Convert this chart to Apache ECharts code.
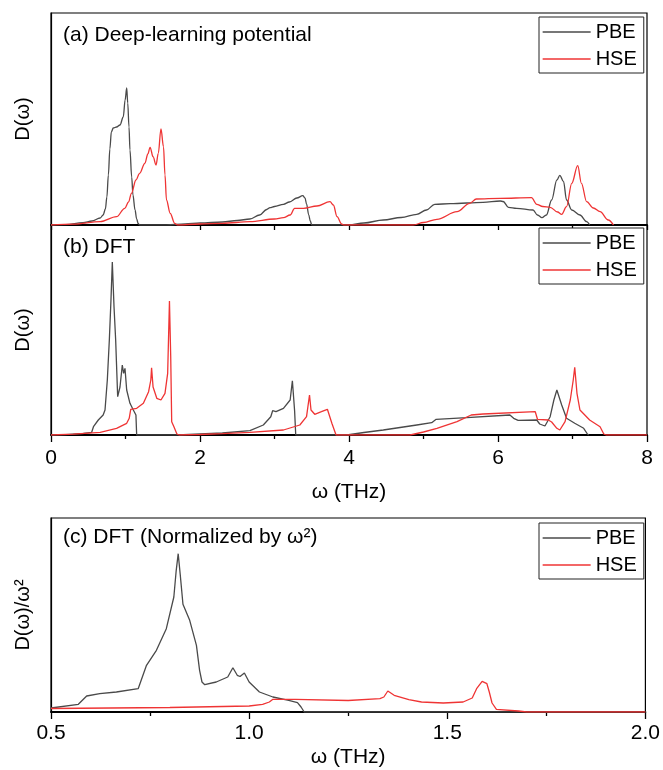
<!DOCTYPE html>
<html><head><meta charset="utf-8">
<script src="https://cdn.jsdelivr.net/npm/echarts@6/dist/echarts.min.js"></script>
<style>html,body{margin:0;padding:0;background:#fff}#c{width:663px;height:770px}</style>
</head><body><div id="c"></div>
<script>
// ---- data: [omega (THz), D (arb. units)] ----
const aPBE = [[0,0],[0.2,0.3],[0.43,2.3],[0.55,4],[0.66,7],[0.7,10],[0.73,16],[0.75,28],[0.77,50],[0.79,76],[0.81,93],[0.836,97],[0.88,98],[0.926,100],[0.97,108],[0.995,125],[1.016,137],[1.03,122],[1.047,98],[1.06,75],[1.083,48],[1.1,30],[1.128,15],[1.15,6],[1.17,1.5],[1.19,0],[1.55,0],[1.8,1],[2.0,2],[2.3,3],[2.5,4.5],[2.67,6],[2.8,10],[2.895,15.5],[2.94,17.3],[3.0,18.5],[3.12,20.7],[3.2,23],[3.3,27],[3.38,29.3],[3.41,27],[3.43,21],[3.46,10],[3.48,4],[3.5,0],[4.0,0],[4.2,2],[4.46,5],[4.7,7.5],[4.91,10.7],[5.04,15],[5.15,20.7],[5.36,21.3],[5.8,22.7],[6.03,24],[6.07,23.5],[6.14,17.7],[6.25,16.7],[6.47,15],[6.53,10],[6.59,7.3],[6.65,10],[6.72,25],[6.79,45],[6.83,49.7],[6.88,43.3],[6.92,25],[6.99,15],[7.1,10],[7.19,3.3],[7.23,0]];
const aHSE = [[0,0],[0.3,0.8],[0.66,3.3],[0.88,8.3],[0.99,16.7],[1.04,23],[1.08,31.7],[1.14,45],[1.19,51.7],[1.26,61.7],[1.3,71],[1.33,77.7],[1.37,68.3],[1.41,60],[1.44,71.7],[1.476,96],[1.51,78.3],[1.53,50],[1.55,25],[1.6,11.7],[1.66,1.7],[1.7,0],[2.0,1],[2.3,1.7],[2.67,3.3],[3.0,6],[3.12,7.3],[3.21,10],[3.27,16.7],[3.39,16.7],[3.57,19],[3.745,23.3],[3.79,20],[3.84,8.3],[3.9,1],[3.93,0],[4.86,0],[5.0,2.5],[5.18,5.7],[5.45,13.3],[5.62,21.7],[5.71,26],[6.03,26.7],[6.45,27.3],[6.52,20.7],[6.6,18.5],[6.7,17.7],[6.8,13],[6.855,10.7],[6.92,18.3],[6.99,41.7],[7.07,59.3],[7.12,41.7],[7.19,23.3],[7.28,17],[7.37,13.3],[7.48,5],[7.55,0]];
const bPBE = [[0,0],[0.2,0.4],[0.434,1.7],[0.546,2.7],[0.57,8.3],[0.635,15],[0.7,20],[0.725,25],[0.756,55],[0.783,95],[0.805,135],[0.823,173],[0.846,128],[0.868,95],[0.895,38.3],[0.926,48],[0.957,70],[0.975,61.7],[0.993,66.7],[1.016,45],[1.06,31.7],[1.105,25],[1.14,20],[1.15,0],[1.7,0],[2.0,1],[2.3,2],[2.67,4.3],[2.85,10],[2.95,18.3],[2.975,24.3],[3.02,23.3],[3.12,26.7],[3.21,35],[3.24,54.3],[3.27,24],[3.285,0],[3.97,0],[4.2,2.5],[4.46,5],[4.91,10],[5.11,12.3],[5.17,15.7],[5.58,17.3],[6.16,20],[6.21,16.7],[6.27,14.7],[6.52,15],[6.56,11],[6.63,9],[6.7,18.3],[6.75,35],[6.79,45],[6.81,46.7],[6.855,30],[6.92,16.7],[7.03,11.7],[7.15,6.7],[7.2,1],[7.22,0]];
const bHSE = [[0,0],[0.3,0.8],[0.66,2.7],[0.88,6.7],[1.016,11.7],[1.05,16.7],[1.07,25.7],[1.15,26.7],[1.24,31.7],[1.31,43.3],[1.34,55],[1.35,67.3],[1.37,48],[1.42,36.7],[1.476,35],[1.53,41.7],[1.566,61.7],[1.59,134],[1.607,78],[1.62,13.3],[1.65,8.3],[1.69,1],[1.72,0],[2.0,0.5],[2.3,1.3],[2.67,2.7],[3.12,5],[3.34,10],[3.43,18.3],[3.47,40],[3.49,25],[3.54,20.7],[3.63,23.3],[3.71,25.7],[3.77,11.7],[3.826,0],[4.82,0],[5.0,3],[5.18,6.7],[5.45,13.3],[5.64,20],[5.8,21],[6.5,23.3],[6.53,15.7],[6.675,15],[6.72,13],[6.79,6.7],[6.83,5],[6.9,13.3],[6.97,35],[7.01,55],[7.03,67.7],[7.06,41.7],[7.1,25],[7.23,15],[7.37,8.3],[7.42,1],[7.45,0],[8,0]];
const cPBE = [[0.5,4],[0.569,7.7],[0.59,16],[0.623,18.3],[0.665,20],[0.72,23.3],[0.741,46.7],[0.766,61.7],[0.791,83.3],[0.81,115],[0.816,141.7],[0.821,158.3],[0.826,138],[0.833,107.7],[0.85,91.7],[0.867,66.7],[0.875,41.7],[0.881,30],[0.888,27.3],[0.917,30],[0.946,35],[0.959,44.3],[0.97,36.7],[0.977,35.5],[0.988,39],[1.0,30],[1.026,20],[1.06,15],[1.1,11.7],[1.122,9.3],[1.131,5],[1.139,0],[2.0,0]];
const cHSE = [[0.5,3.5],[0.8,4.5],[1.0,6],[1.034,7.7],[1.051,10],[1.06,12.7],[1.116,12.7],[1.25,11.5],[1.33,13.3],[1.34,15],[1.35,21],[1.366,16.7],[1.403,12.3],[1.435,10],[1.49,9],[1.54,10],[1.563,14],[1.574,23.3],[1.588,30.7],[1.6,28.3],[1.606,20],[1.613,9],[1.624,2.7],[1.68,1],[1.7,0],[2.0,0]];
const seriesNames = ['PBE','HSE'];
const panelTitles = ['(a) Deep-learning potential','(b) DFT','(c) DFT (Normalized by ω²)'];
const yNames = ['D(ω)','D(ω)','D(ω)/ω²'];
const xName = 'ω (THz)';

const F = 'Liberation Sans, Arial, sans-serif';
const CP = '#4a4a4a', CH = '#ef3434';
const chart = echarts.init(document.getElementById('c'), null, {renderer:'canvas'});

const grids = [
  {left:51, top:13, width:596, height:212},
  {left:51, top:225, width:596, height:210},
  {left:51, top:518, width:596, height:194}
].map(g => Object.assign(g, {show:true, borderColor:'#000', borderWidth:1.2, backgroundColor:'transparent', containLabel:false}));

const axLine = {show:true, lineStyle:{color:'#000', width:1.8}};
const tickStyle = {color:'#000', width:1.3};
const xAxes = [
  {gridIndex:0, type:'value', min:0, max:8, interval:1, axisLine:axLine,
   axisTick:{show:true, inside:false, length:5, lineStyle:tickStyle}, axisLabel:{show:false}, splitLine:{show:false}},
  {gridIndex:1, type:'value', min:0, max:8, interval:2, axisLine:axLine,
   axisTick:{show:true, inside:false, length:7, lineStyle:tickStyle},
   minorTick:{show:true, splitNumber:2, length:4, lineStyle:tickStyle},
   axisLabel:{show:true, fontSize:21, fontFamily:F, color:'#000', margin:13},
   splitLine:{show:false}, name:xName, nameLocation:'middle', nameGap:47,
   nameTextStyle:{fontSize:21, fontFamily:F, color:'#000'}},
  {gridIndex:2, type:'value', min:0.5, max:2.0, interval:0.5, axisLine:axLine,
   axisTick:{show:true, inside:false, length:7, lineStyle:tickStyle},
   minorTick:{show:true, splitNumber:2, length:4, lineStyle:tickStyle},
   axisLabel:{show:true, fontSize:21, fontFamily:F, color:'#000', margin:11, formatter:v=>v.toFixed(1)},
   splitLine:{show:false}, name:xName, nameLocation:'middle', nameGap:35,
   nameTextStyle:{fontSize:21, fontFamily:F, color:'#000'}}
];
const yMax = [212, 210, 194];
const yAxes = yMax.map((m,i) => ({gridIndex:i, type:'value', min:0, max:m,
  axisLine:{show:true, lineStyle:{color:'#000', width:1.2}}, axisTick:{show:false}, axisLabel:{show:false},
  splitLine:{show:false}, name:yNames[i], nameLocation:'middle', nameGap:18,
  nameTextStyle:{fontSize:20, fontFamily:F, color:'#000'}}));

const dataSets = [[aPBE,aHSE],[bPBE,bHSE],[cPBE,cHSE]];
const smooth = [0.35, 0, 0];
const series = [];
dataSets.forEach((pair,i) => {
  pair.forEach((d,j) => {
    const col = j===0 ? CP : CH;
    series.push({name:seriesNames[j], type:'line', xAxisIndex:i, yAxisIndex:i, data:d,
      symbol:'none', showSymbol:false, smooth:smooth[i], smoothMonotone:'x',
      lineStyle:{color:col, width:1.3}, itemStyle:{color:col}, z:3, silent:true});
  });
});

const legendTops = [17, 228, 523];
const legends = legendTops.map(t => ({orient:'vertical', left:539, top:t, padding:[5,7,4,3], itemGap:7,
  itemWidth:48, itemHeight:14, borderColor:'#222', borderWidth:1, backgroundColor:'#fff',
  itemStyle:{opacity:0}, lineStyle:{width:1.3},
  textStyle:{fontSize:20, fontFamily:F, color:'#000'}, data:seriesNames, selectedMode:false}));

const titleTops = [25, 237, 527];
const titles = panelTitles.map((t,i) => ({text:t, left:63, top:titleTops[i], padding:0,
  textStyle:{fontSize:21, fontWeight:'normal', fontFamily:F, color:'#000'}}));

chart.setOption({
  animation:false, backgroundColor:'#fff',
  title:titles, legend:legends, grid:grids, xAxis:xAxes, yAxis:yAxes, series:series
});
</script></body></html>
